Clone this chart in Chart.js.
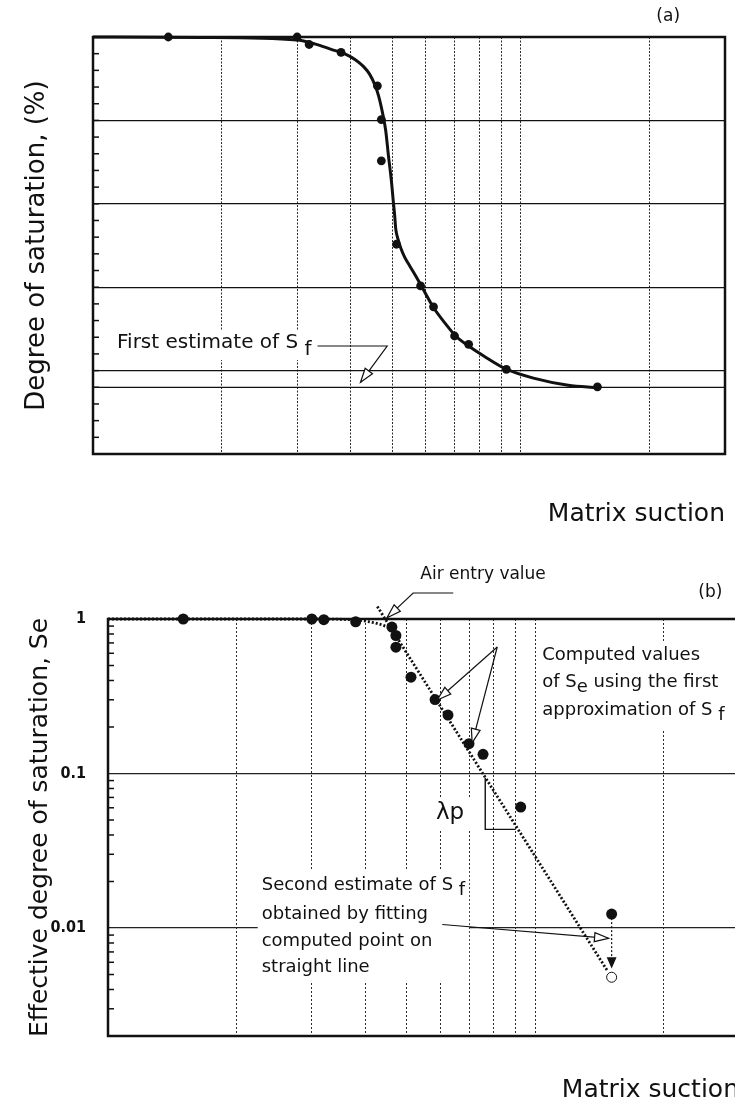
<!DOCTYPE html>
<html>
<head>
<meta charset="utf-8">
<script src="https://cdn.jsdelivr.net/npm/chart.js@4.4.0/dist/chart.umd.min.js"></script>
<style>
  html, body { margin: 0; padding: 0; background: #fff; overflow: hidden; width: 735px; height: 1107px; }
  canvas { position: absolute; left: 0; }
  #top { top: 0; }
  #bottom { top: 560px; }
</style>
</head>
<body>
<canvas id="top" width="735" height="560"></canvas>
<canvas id="bottom" width="746" height="547"></canvas>
<script>
// ---- axes ----
const xMin = 1, xMax = 30;                       // matrix suction, log axis (no labels)
const xGrid = [2, 3, 4, 5, 6, 7, 8, 9, 10, 20];
const satGrid = [0, 20, 40, 60, 80, 100];
const satMinor = [4, 8, 12, 16, 20, 24, 28, 32, 36, 40, 44, 48, 52, 56, 60, 64, 68, 72, 76, 80, 84, 88, 92, 96];
const seMin = 0.002, seMax = 1;
const seGrid = [0.01, 0.1, 1];
const seMinor = [0.003, 0.004, 0.005, 0.006, 0.007, 0.008, 0.009,
                 0.02, 0.03, 0.04, 0.05, 0.06, 0.07, 0.08, 0.09,
                 0.2, 0.3, 0.4, 0.5, 0.6, 0.7, 0.8, 0.9];

// ---- measured points ----
const suction    = [1.5, 3.0, 3.2, 3.8, 4.62, 4.72, 4.72, 5.12, 5.83, 6.25, 7.0, 7.55, 9.25, 15.1];
const saturation = [100, 100, 98.2, 96.3, 88.3, 80.2, 70.3, 50.3, 40.3, 35.3, 28.3, 26.3, 20.3, 16.1];
const effSat     = [1.0, 1.0, 0.99, 0.96, 0.887, 0.782, 0.657, 0.42, 0.301, 0.239, 0.156, 0.133, 0.0606, 0.0123];

// ---- fitted retention curve (a) ----
const curveSuction = [1.0, 1.78, 3.0, 3.31, 3.59, 3.89, 4.11, 4.29, 4.43, 4.55, 4.65, 4.75, 4.83, 4.91, 4.98, 5.03,
                      5.07, 5.10, 5.16, 5.24, 5.35, 5.50, 5.68, 5.89, 6.26, 6.67, 7.04, 7.55, 8.19, 9.22, 10.7, 12.9, 15.1];
const curveSat     = [100, 99.9, 99.3, 98.3, 97.1, 95.9, 94.5, 92.9, 91.1, 88.7, 85.9, 81.8, 77.7, 71.0, 65.7, 60.9,
                      57.3, 54.0, 51.6, 49.4, 47.2, 45.1, 42.7, 39.8, 35.0, 31.2, 28.3, 25.9, 23.5, 20.4, 18.2, 16.5, 15.9];
const firstSf = 16;

// ---- dotted curve and straight line (b) ----
const seCurveSuction = [1.0, 3.0, 3.8, 4.3, 4.6];
const seCurve        = [1.0, 1.0, 0.985, 0.93, 0.87];
const fitSuction = [4.27, 14.75];
const fitSe      = [1.205, 0.0053];
const secondSe = 0.0048;

const FONT = "'DejaVu Sans', Verdana, sans-serif";
const INK = '#111';
Chart.defaults.font.family = FONT;
Chart.defaults.color = INK;

const pts = (xs, ys) => xs.map((x, i) => ({ x: x, y: ys[i] }));

function arrowHead(ctx, fx, fy, tx, ty, filled, len, half) {
  const a = Math.atan2(ty - fy, tx - fx);
  ctx.save();
  ctx.translate(tx, ty);
  ctx.rotate(a);
  ctx.beginPath();
  ctx.moveTo(0, 0);
  ctx.lineTo(-len, -half);
  ctx.lineTo(-len, half);
  ctx.closePath();
  ctx.fillStyle = filled ? INK : '#fff';
  ctx.fill();
  ctx.lineWidth = 1.2;
  ctx.strokeStyle = INK;
  ctx.setLineDash([]);
  ctx.stroke();
  ctx.restore();
}

// polyline in pixel coords, arrow at the last point
function leader(ctx, p, head, filled) {
  ctx.beginPath();
  ctx.moveTo(p[0][0], p[0][1]);
  for (let i = 1; i < p.length; i++) ctx.lineTo(p[i][0], p[i][1]);
  ctx.stroke();
  if (head) {
    const n = p.length;
    arrowHead(ctx, p[n - 2][0], p[n - 2][1], p[n - 1][0], p[n - 1][1], filled, 14, 4.5);
  }
}

function richWidth(ctx, parts, size) {
  ctx.font = size + 'px ' + FONT;
  return parts.reduce((w, part) => w + ctx.measureText(part[0]).width, 0);
}

function drawRich(ctx, parts, x, y, size) {
  let cx = x;
  ctx.font = size + 'px ' + FONT;
  ctx.textAlign = 'left';
  ctx.textBaseline = 'middle';
  parts.forEach(part => {
    ctx.fillText(part[0], cx, part[1] ? y + size * 0.32 : y);
    cx += ctx.measureText(part[0]).width;
  });
  return cx;
}

function whiteBox(ctx, x, y, w, h) {
  ctx.fillStyle = '#fff';
  ctx.fillRect(x, y, w, h);
  ctx.fillStyle = INK;
}

function frameAndTicks(ctx, a, yScale, minor) {
  ctx.strokeStyle = INK;
  ctx.lineWidth = 1.5;
  minor.forEach(v => {
    const py = yScale.getPixelForValue(v);
    ctx.beginPath();
    ctx.moveTo(a.left, py);
    ctx.lineTo(a.left + 6, py);
    ctx.stroke();
  });
  ctx.lineWidth = 2.5;
  ctx.strokeRect(a.left, a.top, a.right - a.left, a.bottom - a.top);
}

// ---------- (a) degree of saturation ----------
const firstLabel = [['First estimate of S'], [' f', true]];

const topDecor = {
  id: 'topDecor',
  beforeDatasetsDraw(chart) {
    const { ctx, chartArea: a, scales: { x, y } } = chart;
    ctx.save();
    const tx = x.getPixelForValue(1.138), ty = y.getPixelForValue(26.6);
    whiteBox(ctx, tx - 3, ty - 13, richWidth(ctx, firstLabel, 20) + 6, 30);
    frameAndTicks(ctx, a, y, satMinor);
    ctx.restore();
  },
  afterDatasetsDraw(chart) {
    const { ctx, scales: { x, y } } = chart;
    ctx.save();
    ctx.fillStyle = INK;
    ctx.strokeStyle = INK;
    ctx.lineWidth = 1.2;
    const tx = x.getPixelForValue(1.138), ty = y.getPixelForValue(26.6);
    const end = drawRich(ctx, firstLabel, tx, ty, 20);
    const ly = y.getPixelForValue(25.9);
    leader(ctx, [[end + 6, ly], [x.getPixelForValue(4.87), ly],
                 [x.getPixelForValue(4.22), y.getPixelForValue(17.2)]], true, false);
    ctx.font = '17px ' + FONT;
    ctx.textAlign = 'center';
    ctx.textBaseline = 'middle';
    ctx.fillText('(a)', x.getPixelForValue(22.1), y.getPixelForValue(104.8));
    ctx.restore();
  }
};

new Chart(document.getElementById('top'), {
  type: 'scatter',
  data: {
    datasets: [
      { label: 'Measured', data: pts(suction, saturation), pointRadius: 4.4,
        pointBackgroundColor: INK, pointBorderWidth: 0, clip: false },
      { label: 'Fitted curve', data: pts(curveSuction, curveSat), showLine: true,
        borderColor: INK, borderWidth: 3, pointRadius: 0, cubicInterpolationMode: 'monotone', clip: false },
      { label: 'First estimate of Sf', data: pts([xMin, xMax], [firstSf, firstSf]), showLine: true,
        borderColor: INK, borderWidth: 1.2, pointRadius: 0 }
    ]
  },
  options: {
    responsive: false, animation: false, devicePixelRatio: 1,
    layout: { padding: { top: 37, right: 10, left: 0, bottom: 0 } },
    plugins: { legend: { display: false }, tooltip: { enabled: false } },
    scales: {
      x: {
        type: 'logarithmic', min: xMin, max: xMax,
        afterBuildTicks: s => { s.ticks = xGrid.map(v => ({ value: v })); },
        afterFit: s => { s.height = 106; },
        ticks: { display: false },
        grid: { color: '#2a2a2a', lineWidth: 1, drawTicks: false },
        border: { display: false, dash: [2, 1.5] },
        title: { display: true, text: 'Matrix suction', align: 'end', color: INK,
                 font: { size: 25 }, padding: { top: 0, bottom: 31 } }
      },
      y: {
        min: 0, max: 100,
        afterBuildTicks: s => { s.ticks = satGrid.map(v => ({ value: v })); },
        afterFit: s => { s.width = 93; },
        ticks: { display: false },
        grid: { color: INK, lineWidth: 1.2, drawTicks: false },
        border: { display: false },
        title: { display: true, text: 'Degree of saturation, (%)', color: INK,
                 font: { size: 26 }, padding: { top: 22, bottom: 0 } }
      }
    }
  },
  plugins: [topDecor]
});

// ---------- (b) effective degree of saturation ----------
const computedLines = [
  [['Computed values']],
  [['of S'], ['e', true], [' using the first']],
  [['approximation of S'], [' f', true]]
];
const computedY = [0.585, 0.391, 0.258];
const secondLines = [
  [['Second estimate of S'], [' f', true]],
  [['obtained by fitting']],
  [['computed point on']],
  [['straight line']]
];
const secondY = [0.0190, 0.01222, 0.00826, 0.0056];

const bottomDecor = {
  id: 'bottomDecor',
  beforeDatasetsDraw(chart) {
    const { ctx, chartArea: a, scales: { x, y } } = chart;
    ctx.save();
    // clear the grid behind the text blocks
    const cx = x.getPixelForValue(10.39);
    whiteBox(ctx, cx - 4, y.getPixelForValue(computedY[0]) - 14,
             800, y.getPixelForValue(computedY[2]) - y.getPixelForValue(computedY[0]) + 34);
    const sx = x.getPixelForValue(2.29);
    const sw = Math.max(...secondLines.map(l => richWidth(ctx, l, 18)));
    whiteBox(ctx, sx - 4, y.getPixelForValue(secondY[0]) - 14, sw + 8,
             y.getPixelForValue(secondY[3]) - y.getPixelForValue(secondY[0]) + 28);
    whiteBox(ctx, x.getPixelForValue(6.32) - 24, y.getPixelForValue(0.0555) - 16, 48, 34);
    frameAndTicks(ctx, a, y, seMinor);
    ctx.restore();
  },
  afterDatasetsDraw(chart) {
    const { ctx, scales: { x, y } } = chart;
    const P = (vx, vy) => [x.getPixelForValue(vx), y.getPixelForValue(vy)];
    ctx.save();
    ctx.fillStyle = INK;
    ctx.strokeStyle = INK;
    ctx.lineWidth = 1.2;

    // air entry value
    ctx.font = '17px ' + FONT;
    ctx.textAlign = 'center';
    ctx.textBaseline = 'middle';
    ctx.fillText('Air entry value', ...P(7.55, 1.927));
    ctx.fillText('(b)', ...P(25.7, 1.473));
    leader(ctx, [P(6.43, 1.473), P(5.18, 1.473), P(4.5, 1.02)], true, false);

    // computed values
    const cx = x.getPixelForValue(10.39);
    computedLines.forEach((l, i) => drawRich(ctx, l, cx, y.getPixelForValue(computedY[i]), 18));
    ctx.lineWidth = 1.2;
    leader(ctx, [P(8.15, 0.659), P(5.90, 0.299)], true, false);
    leader(ctx, [P(8.15, 0.659), P(7.12, 0.158)], true, false);

    // slope triangle
    ctx.font = '23px ' + FONT;
    ctx.textAlign = 'center';
    ctx.textBaseline = 'middle';
    ctx.fillText('\u03bbp', ...P(6.32, 0.0555));
    ctx.lineWidth = 1.4;
    leader(ctx, [P(7.64, 0.094), P(7.64, 0.0435), P(9.0, 0.0435)], false);

    // second estimate
    const sx = x.getPixelForValue(2.29);
    secondLines.forEach((l, i) => drawRich(ctx, l, sx, y.getPixelForValue(secondY[i]), 18));
    ctx.lineWidth = 1.2;
    leader(ctx, [P(6.06, 0.01054), P(14.85, 0.00858)], true, false);

    // move of the last point onto the line
    const px = x.getPixelForValue(suction[13]);
    ctx.setLineDash([2, 2]);
    ctx.beginPath();
    ctx.moveTo(px, y.getPixelForValue(effSat[13]));
    ctx.lineTo(px, y.getPixelForValue(0.0058));
    ctx.stroke();
    ctx.setLineDash([]);
    arrowHead(ctx, px, y.getPixelForValue(0.008), px, y.getPixelForValue(0.0056), true, 9, 4);
    ctx.restore();
  }
};

new Chart(document.getElementById('bottom'), {
  type: 'scatter',
  data: {
    datasets: [
      { label: 'Computed Se', data: pts(suction, effSat), pointRadius: 5.5,
        pointBackgroundColor: INK, pointBorderWidth: 0, clip: false },
      { label: 'Second estimate', data: pts([suction[13]], [secondSe]), pointRadius: 5,
        pointBackgroundColor: '#fff', pointBorderColor: INK, pointBorderWidth: 1, clip: false },
      { label: 'Dotted curve', data: pts(seCurveSuction, seCurve), showLine: true,
        borderColor: INK, borderWidth: 2.8, borderDash: [2, 2], pointRadius: 0,
        cubicInterpolationMode: 'monotone', clip: false },
      { label: 'Straight line', data: pts(fitSuction, fitSe), showLine: true,
        borderColor: INK, borderWidth: 2.8, borderDash: [2, 2], pointRadius: 0, clip: false }
    ]
  },
  options: {
    responsive: false, animation: false, devicePixelRatio: 1,
    layout: { padding: { top: 59, right: 7, left: 0, bottom: 0 } },
    plugins: { legend: { display: false }, tooltip: { enabled: false } },
    scales: {
      x: {
        type: 'logarithmic', min: xMin, max: xMax,
        afterBuildTicks: s => { s.ticks = xGrid.map(v => ({ value: v })); },
        afterFit: s => { s.height = 71; },
        ticks: { display: false },
        grid: { color: '#2a2a2a', lineWidth: 1, drawTicks: false },
        border: { display: false, dash: [2, 2] },
        title: { display: true, text: 'Matrix suction', align: 'end', color: INK,
                 font: { size: 25 }, padding: { top: 0, bottom: 2 } }
      },
      y: {
        type: 'logarithmic', min: seMin, max: seMax,
        afterBuildTicks: s => { s.ticks = seGrid.map(v => ({ value: v })); },
        afterFit: s => { s.width = 108; },
        ticks: { display: true, padding: 22, color: INK, callback: v => String(v),
                 font: { family: "'DejaVu Sans Condensed', 'DejaVu Sans', sans-serif", size: 16, weight: 'bold' } },
        grid: { color: '#222', lineWidth: 1.2, drawTicks: false },
        border: { display: false },
        title: { display: true, text: 'Effective degree of saturation, Se', color: INK,
                 font: { size: 25 }, padding: { top: 25, bottom: 0 } }
      }
    }
  },
  plugins: [bottomDecor]
});
</script>
</body>
</html>
